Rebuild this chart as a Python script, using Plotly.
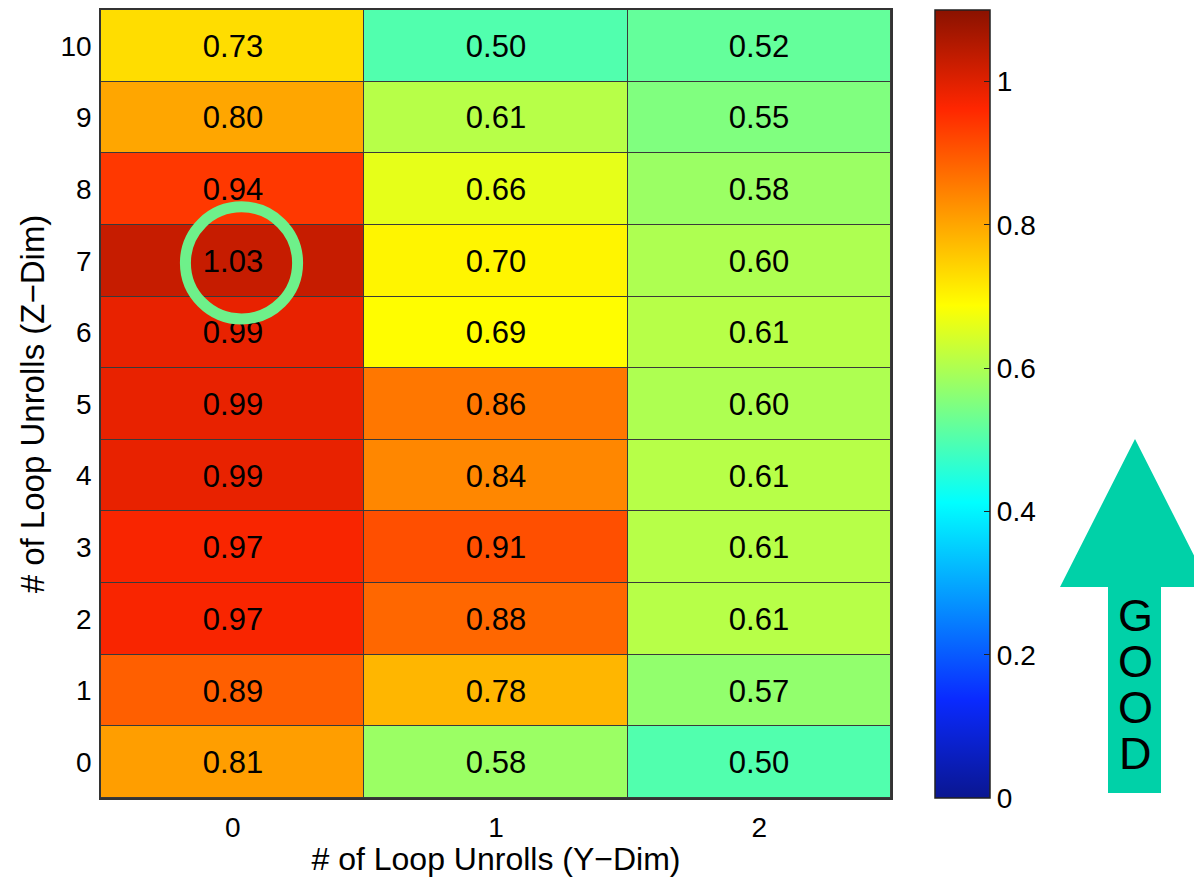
import plotly.graph_objects as go

# ---- data ----
y_dim = [0, 1, 2]
z_dim = [0, 1, 2, 3, 4, 5, 6, 7, 8, 9, 10]
col_y0 = [0.81, 0.89, 0.97, 0.97, 0.99, 0.99, 0.99, 1.03, 0.94, 0.80, 0.73]
col_y1 = [0.58, 0.78, 0.88, 0.91, 0.84, 0.86, 0.69, 0.70, 0.66, 0.61, 0.50]
col_y2 = [0.50, 0.57, 0.61, 0.61, 0.61, 0.60, 0.61, 0.60, 0.58, 0.55, 0.52]
cbar_ticks = [0, 0.2, 0.4, 0.6, 0.8, 1]
cbar_labels = ["0", "0.2", "0.4", "0.6", "0.8", "1"]

z = [[col_y0[i], col_y1[i], col_y2[i]] for i in range(len(z_dim))]

jet = [
    [0.0, "#0A1690"], [0.125, "#0A2AFF"], [0.375, "#00FFFF"],
    [0.625, "#FFFF00"], [0.875, "#FF2600"], [1.0, "#8A1200"],
]

FONT = "Liberation Sans, Arial, Helvetica, sans-serif"

fig = go.Figure(
    go.Heatmap(
        x=y_dim, y=z_dim, z=z,
        zmin=0, zmax=1.1,
        colorscale=jet,
        xgap=1, ygap=1,
        texttemplate="%{z:.2f}",
        textfont=dict(family=FONT, size=31, color="black"),
        colorbar=dict(
            x=1.0557, xanchor="left", xpad=0,
            y=0.5, yanchor="middle", ypad=0,
            len=1.0, lenmode="fraction",
            thickness=55, thicknessmode="pixels",
            outlinecolor="#222", outlinewidth=1.5,
            tickvals=cbar_ticks, ticktext=cbar_labels,
            ticks="inside", ticklen=6, tickcolor="#222",
            tickfont=dict(family=FONT, size=28, color="black"),
        ),
        hoverongaps=False,
    )
)

W, H = 1194, 877
L, R, T, B = 101, 303, 10, 79
pw, ph = W - L - R, H - T - B

def px(xp):
    return (xp - L) / pw

def py(yp):
    return (H - B - yp) / ph

# circle highlight around best cell
fig.add_shape(type="circle", xref="x", yref="y",
              x0=0.0336 - 0.213, x1=0.0336 + 0.213,
              y0=6.97 - 0.782, y1=6.97 + 0.782,
              line=dict(color="#6EF08A", width=11))

# GOOD arrow
tip = (1135, 439)
bl, br = (1060, 587), (1210, 587)
sl, sr, sb = 1108, 1161, 793
path = (f"M {px(tip[0])},{py(tip[1])} L {px(br[0])},{py(br[1])} "
        f"L {px(sr)},{py(br[1])} L {px(sr)},{py(sb)} L {px(sl)},{py(sb)} "
        f"L {px(sl)},{py(bl[1])} L {px(bl[0])},{py(bl[1])} Z")
fig.add_shape(type="path", xref="paper", yref="paper", path=path,
              fillcolor="#00D1A8", line=dict(width=0), layer="above")

for letter, yc in zip("GOOD", [615, 661, 707, 753]):
    fig.add_annotation(text=letter, xref="paper", yref="paper",
                       x=px(1135), y=py(yc), xanchor="center", yanchor="middle",
                       showarrow=False,
                       font=dict(family=FONT, size=45, color="black"))

fig.update_layout(
    width=W, height=H,
    margin=dict(l=L, r=R, t=T, b=B, autoexpand=False),
    paper_bgcolor="white",
    plot_bgcolor="#3a3a3a",
    font=dict(family=FONT, color="black"),
    xaxis=dict(
        range=[-0.5, 2.5], tickvals=y_dim, ticktext=[str(v) for v in y_dim],
        showgrid=False, zeroline=False, ticks="", automargin=False,
        showline=True, mirror=True, linecolor="#333", linewidth=1.5,
        tickfont=dict(size=28), ticklabelstandoff=4,
        title=dict(text="# of Loop Unrolls (Y−Dim)", font=dict(size=32), standoff=0),
    ),
    yaxis=dict(
        range=[-0.5, 10.5], tickvals=z_dim, ticktext=[str(v) for v in z_dim],
        showgrid=False, zeroline=False, ticks="", automargin=False,
        showline=True, mirror=True, linecolor="#333", linewidth=1.5,
        tickfont=dict(size=28), ticklabelstandoff=2,
        title=dict(text="# of Loop Unrolls (Z−Dim)", font=dict(size=33), standoff=6),
    ),
)

fig.write_html(
    "out.html",
    config={"displayModeBar": False},
    post_script="document.body.style.margin='0';document.body.style.overflow='hidden';",
)
